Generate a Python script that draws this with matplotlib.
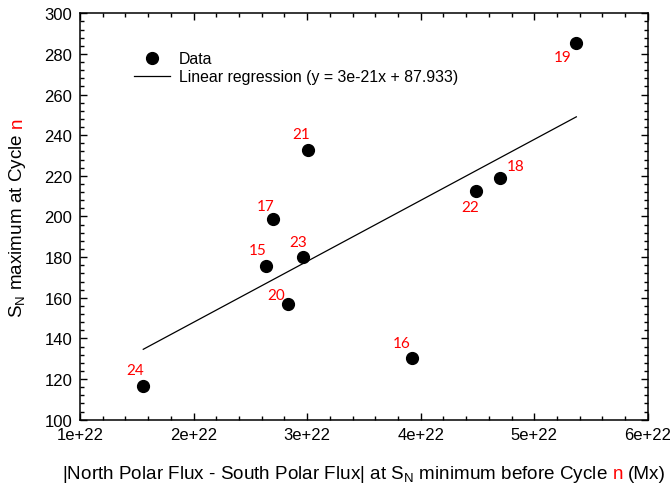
import matplotlib
matplotlib.use("Agg")
import matplotlib.pyplot as plt
import numpy as np
from matplotlib.ticker import MultipleLocator, FormatStrFormatter

plt.rcParams["font.family"] = ["Liberation Sans", "DejaVu Sans"]
plt.rcParams["mathtext.default"] = "regular"

# data
cycles = [15, 16, 17, 18, 19, 20, 21, 22, 23, 24]
flux = [2.64e22, 3.92e22, 2.70e22, 4.70e22, 5.37e22, 2.83e22, 3.01e22, 4.49e22, 2.96e22, 1.557e22]
sn_max = [175.8, 130.4, 198.8, 218.8, 285.2, 156.8, 232.9, 212.5, 179.9, 116.6]
slope = 3e-21
intercept = 87.933

# label offsets (points) for the red cycle numbers
label_offset = {15: (-6, 11), 16: (-7.5, 10.5), 17: (-5.5, 9.5), 18: (11, 8.5), 19: (-10, -9.5),
                20: (-8.5, 7), 21: (-5, 11.5), 22: (-4.5, -11.5), 23: (-3.5, 11), 24: (-5.5, 11.5)}


def colored_label(fig, pieces, x, y, rotation, size):
    # text made of several coloured pieces, centred on (x, y) along its direction
    r = fig.canvas.get_renderer()
    widths = []
    for s, c in pieces:
        t = fig.text(0, 0, s, fontsize=size)
        widths.append(t.get_window_extent(r).width)
        t.remove()
    gap = 0.278 * size * fig.dpi / 72
    total = sum(widths) + gap * (len(pieces) - 1)
    px, py = fig.transFigure.transform((x, y))
    pos = -total / 2
    for (s, c), w in zip(pieces, widths):
        xy = (px + pos, py) if rotation == 0 else (px, py + pos)
        fx, fy = fig.transFigure.inverted().transform(xy)
        fig.text(fx, fy, s, color=c, fontsize=size, rotation=rotation,
                 rotation_mode="anchor", ha="left", va="baseline")
        pos += w + gap


fig = plt.figure(figsize=(6.7, 4.85), dpi=100)
ax = fig.add_axes([0.1194, 0.1326, 0.8476, 0.838])

ax.plot(flux, sn_max, "o", color="black", markersize=8.5, linestyle="none", label="Data")
xl = np.array([min(flux), max(flux)])
ax.plot(xl, slope * xl + intercept, color="black", lw=0.9,
        label="Linear regression (y = 3e-21x + 87.933)")

for c, x, y in zip(cycles, flux, sn_max):
    ax.annotate(str(c), (x, y), xytext=label_offset[c], textcoords="offset points",
                ha="center", va="center", color="red", fontsize=11, family="Lato")

ax.set_xlim(1e22, 6e22)
ax.set_ylim(100, 300)
ax.xaxis.set_major_locator(MultipleLocator(1e22))
ax.xaxis.set_minor_locator(MultipleLocator(0.2e22))
ax.xaxis.set_major_formatter(FormatStrFormatter("%.0e"))
ax.yaxis.set_major_locator(MultipleLocator(20))
ax.yaxis.set_minor_locator(MultipleLocator(4))
ax.tick_params(which="both", direction="in", top=True, right=True, labelsize=12, width=1)
ax.tick_params(which="major", length=5, pad=5.5)
ax.tick_params(which="minor", length=2.8)
for sp in ax.spines.values():
    sp.set_linewidth(1.1)

ax.legend(loc="upper left", bbox_to_anchor=(0.0945, 0.907), frameon=False, fontsize=11.4,
          borderaxespad=0, borderpad=0, handlelength=2.28, handletextpad=0.57,
          labelspacing=0.2)

colored_label(fig, [("|North Polar Flux - South Polar Flux| at $S_N$ minimum before Cycle", "black"),
                    ("n", "red"), ("(Mx)", "black")], 0.5432, 0.0118, 0, 13.6)
colored_label(fig, [("$S_N$ maximum at Cycle", "black"), ("n", "red")], 0.033, 0.5515, 90, 13.6)

fig.savefig("out.png", dpi=100)
